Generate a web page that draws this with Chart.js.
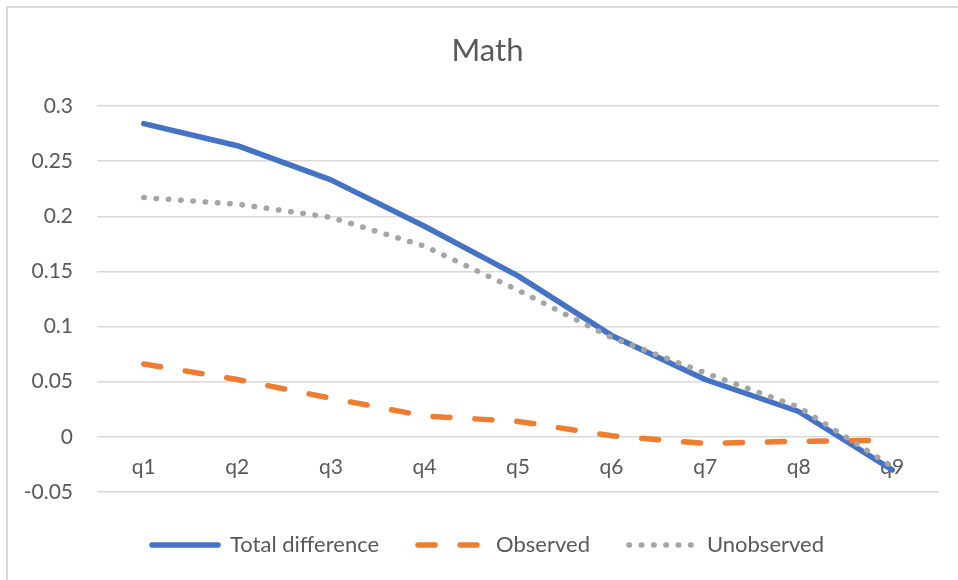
<!DOCTYPE html>
<html>
<head>
<meta charset="utf-8">
<script src="https://cdn.jsdelivr.net/npm/chart.js@4/dist/chart.umd.min.js"></script>
<style>
  html, body { margin: 0; padding: 0; background: #ffffff; }
  #wrap { position: relative; width: 958px; height: 580px; overflow: hidden; }
  #frame { position: absolute; left: 6px; top: 6px; width: 980px; height: 600px;
           border-left: 2px solid #d9d9d9; border-top: 2px solid #d9d9d9; }
  #c { position: absolute; left: 0; top: 0; }
</style>
</head>
<body>
<div id="wrap">
  <div id="frame"></div>
  <canvas id="c" width="958" height="580"></canvas>
</div>
<script>
// Quantile labels along the category axis
const categories = ['q1', 'q2', 'q3', 'q4', 'q5', 'q6', 'q7', 'q8', 'q9'];

// Decomposition of the math score gap by quantile
const totalDifference = [0.284, 0.264, 0.233, 0.191, 0.146, 0.092, 0.052, 0.023, -0.030];
const observed        = [0.066, 0.052, 0.035, 0.019, 0.014, 0.001, -0.006, -0.004, -0.003];
const unobserved      = [0.217, 0.211, 0.199, 0.173, 0.133, 0.090, 0.058, 0.027, -0.027];

const seriesNames = ['Total difference', 'Observed', 'Unobserved'];

// Value axis range and step
const yMin = -0.05, yMax = 0.3, yStep = 0.05;

const textColor = '#595959';
const gridColor = '#d9d9d9';
const fontFamily = 'Lato, "Open Sans", "Liberation Sans", sans-serif';
const lineWidth = 5.5;

// Small legend swatch: a short stroke in the series' own line style
function swatch(color, dash) {
  const cv = document.createElement('canvas');
  cv.width = 72;
  cv.height = 10;
  const g = cv.getContext('2d');
  g.strokeStyle = color;
  g.lineWidth = lineWidth;
  g.lineCap = 'round';
  g.setLineDash(dash);
  g.beginPath();
  g.moveTo(3, 5);
  g.lineTo(69, 5);
  g.stroke();
  return cv;
}

const styles = [
  { color: '#4472C4', dash: [] },
  { color: '#ED7D31', dash: [17, 25] },
  { color: '#A5A5A5', dash: [0.5, 11.8] }
];

const seriesData = [totalDifference, observed, unobserved];

const datasets = seriesData.map((values, i) => ({
  label: seriesNames[i],
  data: values,
  borderColor: styles[i].color,
  backgroundColor: styles[i].color,
  borderWidth: lineWidth,
  borderDash: styles[i].dash,
  borderCapStyle: 'round',
  borderJoinStyle: 'round',
  pointRadius: 0,
  pointHoverRadius: 0,
  pointStyle: swatch(styles[i].color, styles[i].dash),
  tension: 0,
  order: 3 - i   // later series are painted on top
}));

new Chart(document.getElementById('c'), {
  type: 'line',
  data: { labels: categories, datasets },
  options: {
    responsive: false,
    animation: false,
    events: [],
    layout: { padding: { left: 24, right: 7, top: 12, bottom: 14 } },
    plugins: {
      title: {
        display: true,
        text: 'Math',
        color: textColor,
        font: { family: fontFamily, size: 31, weight: 'normal', lineHeight: 1.2 },
        padding: { top: 20, bottom: 36.8 }
      },
      legend: {
        display: true,
        position: 'bottom',
        title: { display: true, text: '', font: { size: 4, lineHeight: 1 }, padding: 0 },
        labels: {
          usePointStyle: true,
          pointStyleWidth: 68,
          padding: 38,
          color: textColor,
          font: { family: fontFamily, size: 22 },
          sort: (a, b) => a.datasetIndex - b.datasetIndex
        }
      },
      tooltip: { enabled: false }
    },
    scales: {
      y: {
        type: 'linear',
        position: 'left',
        min: yMin,
        max: yMax,
        afterFit: (scale) => { scale.width = 73; },
        ticks: {
          stepSize: yStep,
          padding: 24,
          color: textColor,
          font: { family: fontFamily, size: 21 },
          callback: (v) => String(Math.round(v * 100) / 100)
        },
        grid: { color: gridColor, lineWidth: 1.5, drawTicks: false },
        border: { display: false }
      },
      // empty right-hand margin strip
      yr: {
        type: 'linear',
        position: 'right',
        afterFit: (scale) => { scale.width = 12; },
        ticks: { display: false },
        grid: { display: false, drawTicks: false },
        border: { display: false }
      },
      x: {
        type: 'category',
        position: { y: 0 },
        offset: true,
        ticks: {
          padding: 18,
          color: textColor,
          font: { family: fontFamily, size: 21 },
          maxRotation: 0
        },
        grid: { display: false, drawTicks: false },
        border: { display: false }
      }
    }
  }
});
</script>
</body>
</html>
